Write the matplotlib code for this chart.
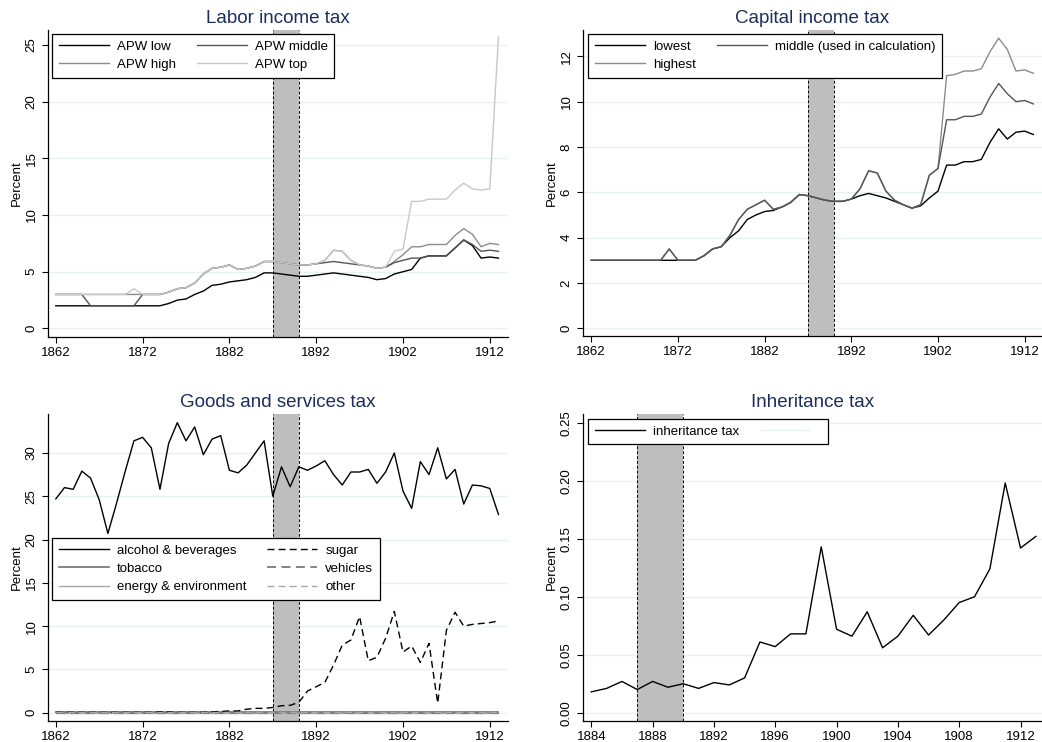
"""Four-panel tax rate chart, 1862-1913."""

import matplotlib

matplotlib.use("Agg")
import matplotlib.pyplot as plt

plt.rcParams["font.family"] = ["Liberation Sans", "DejaVu Sans"]

YEARS = list(range(1862, 1914))

# Labor income tax (percent)
APW_LOW = [2.0] * 13 + [2.2, 2.5, 2.6, 3.0, 3.3, 3.8, 3.9, 4.1, 4.2, 4.3, 4.5, 4.9, 4.9, 4.8, 4.7,
           4.6, 4.6, 4.7, 4.8, 4.9, 4.8, 4.7, 4.6, 4.5, 4.3, 4.4, 4.8, 5.0, 5.2, 6.2, 6.4,
           6.4, 6.4, 7.1, 7.8, 7.3, 6.2, 6.3, 6.2]
APW_TOP_EARLY = [3.0] * 9 + [3.5, 3.0, 3.0, 3.0, 3.2, 3.5, 3.6, 4.0, 4.8, 5.3, 5.4, 5.6, 5.2, 5.3,
                 5.5, 5.9, 5.9, 5.8, 5.7, 5.6, 5.6, 5.7, 6.0, 6.9, 6.8, 6.0, 5.6, 5.5, 5.3, 5.4]
APW_MIDDLE = ([3.0] * 4 + [2.0] * 6 + APW_TOP_EARLY[10:30]
              + [5.7, 5.8, 5.9, 5.8, 5.7, 5.6, 5.5, 5.3, 5.4]
              + [5.8, 6.0, 6.2, 6.2, 6.4, 6.4, 6.4, 7.1, 7.8, 7.4, 6.8, 6.9, 6.8])
APW_HIGH = ([3.0] * 9 + [3.0] + APW_TOP_EARLY[10:]
            + [5.9, 6.5, 7.2, 7.2, 7.4, 7.4, 7.4, 8.2, 8.8, 8.3, 7.2, 7.5, 7.4])
APW_TOP = APW_TOP_EARLY + [6.8, 7.0, 11.2, 11.2, 11.4, 11.4, 11.4, 12.2, 12.8, 12.3, 12.2, 12.3, 25.7]

# Capital income tax (percent)
CAP_LOWEST = [3.0] * 13 + [3.2, 3.5, 3.6, 4.0, 4.3, 4.8, 5.0, 5.15, 5.2, 5.35, 5.55, 5.9, 5.85,
              5.75, 5.65, 5.6, 5.6, 5.7, 5.85, 5.95, 5.85, 5.75, 5.6, 5.45, 5.3, 5.4, 5.75,
              6.05, 7.2, 7.2, 7.35, 7.35, 7.45, 8.2, 8.8, 8.35, 8.65, 8.7, 8.55]
CAP_HIGH_EARLY = [3.0] * 9 + [3.5, 3.0, 3.0, 3.0, 3.2, 3.5, 3.6, 4.1, 4.8, 5.25, 5.45, 5.65, 5.25,
                  5.35, 5.55, 5.9, 5.85, 5.75, 5.65, 5.6, 5.6, 5.7, 6.15, 6.95, 6.85, 6.05,
                  5.65, 5.45, 5.3, 5.45, 6.75, 7.05]
CAP_MIDDLE = CAP_HIGH_EARLY + [9.2, 9.2, 9.35, 9.35, 9.45, 10.2, 10.8, 10.35, 10.0, 10.05, 9.9]
CAP_HIGHEST = CAP_HIGH_EARLY + [11.15, 11.2, 11.35, 11.35, 11.45, 12.2, 12.8, 12.3, 11.35, 11.4, 11.25]

# Goods and services tax (percent)
ALCOHOL = [24.7, 26.0, 25.8, 27.9, 27.1, 24.6, 20.7, 24.2, 27.9, 31.4, 31.8, 30.6, 25.8, 31.1,
           33.5, 31.4, 33.0, 29.8, 31.6, 32.0, 28.0, 27.7, 28.6, 30.0, 31.4, 25.0, 28.4, 26.1,
           28.4, 28.0, 28.5, 29.1, 27.5, 26.3, 27.8, 27.8, 28.1, 26.5, 27.8, 30.0, 25.6, 23.6,
           29.0, 27.5, 30.6, 27.0, 28.1, 24.1, 26.3, 26.2, 25.9, 22.9]
SUGAR = [0.05] * 12 + [0.1, 0.1, 0.05, 0.05, 0.05, 0.05, 0.1, 0.15, 0.2, 0.2, 0.4, 0.5, 0.5, 0.6,
         0.8, 0.85, 1.2, 2.5, 3.0, 3.5, 5.5, 7.8, 8.4, 11.1, 6.0, 6.4, 8.6, 11.7, 7.0, 7.7, 5.8,
         8.0, 1.1, 9.5, 11.6, 10.0, 10.2, 10.3, 10.4, 10.6]
TOBACCO = [0.05] * 52
ENERGY = [0.02] * 52
VEHICLES = [0.0] * 52
OTHER = [0.03] * 52

# Inheritance tax (percent)
INH_YEARS = list(range(1884, 1914))
INHERITANCE = [0.018, 0.021, 0.027, 0.020, 0.027, 0.022, 0.025, 0.021, 0.026, 0.024, 0.030,
               0.061, 0.057, 0.068, 0.068, 0.143, 0.072, 0.066, 0.087, 0.056, 0.066, 0.084,
               0.067, 0.080, 0.095, 0.100, 0.124, 0.198, 0.142, 0.152]

SHADE = (1887, 1890)
TITLE_COLOR = "#1e2d5a"
GRID_COLOR = "#eaf1f2"
FS = 9.5


def style_axes(ax, title, xlim, ylim, xticks, yticks, yfmt):
    ax.axvspan(*SHADE, color="#bebebe", zorder=0.8, lw=0)
    for x in SHADE:
        ax.axvline(x, color="black", ls=(0, (3, 2)), lw=0.7, zorder=1)
    ax.set_xlim(*xlim)
    ax.set_ylim(*ylim)
    ax.set_xticks(xticks)
    ax.set_yticks(yticks)
    ax.set_yticklabels([yfmt.format(v) for v in yticks], rotation=90, va="center")
    ax.tick_params(labelsize=FS, length=4, width=0.8, direction="out")
    for s in ("top", "right"):
        ax.spines[s].set_visible(False)
    for s in ("left", "bottom"):
        ax.spines[s].set_linewidth(0.9)
    ax.yaxis.grid(True, color=GRID_COLOR, lw=1.0, zorder=0.5)
    ax.set_axisbelow(True)
    ax.set_ylabel("Percent", fontsize=FS, labelpad=2)
    ax.set_title(title, fontsize=13.5, color=TITLE_COLOR, pad=5)


def legend(ax, loc_anchor, handles=None, labels=None):
    kw = dict(ncol=2, loc="upper left", bbox_to_anchor=loc_anchor, fontsize=FS, frameon=True,
              fancybox=False, framealpha=1, edgecolor="black", handlelength=3.8,
              borderpad=0.5, labelspacing=0.45, columnspacing=1.6, handletextpad=0.6,
              borderaxespad=0.0)
    if handles is not None:
        kw["handles"] = handles
        kw["labels"] = labels
    leg = ax.legend(**kw)
    leg.get_frame().set_linewidth(0.9)
    leg.set_zorder(5)


fig = plt.figure(figsize=(10.42, 7.42), dpi=100)
W, H = 1042, 742

# Labor income tax
ax1 = fig.add_axes([48 / W, 1 - 337 / H, 460 / W, 307 / H])
ax1.plot(YEARS, APW_LOW, color="black", lw=1.0, label="APW low")
ax1.plot(YEARS, APW_HIGH, color="#8c8c8c", lw=1.0, label="APW high")
ax1.plot(YEARS, APW_MIDDLE, color="#555555", lw=1.0, label="APW middle")
ax1.plot(YEARS, APW_TOP, color="#c8c8c8", lw=1.0, label="APW top")
style_axes(ax1, "Labor income tax", (1861.1, 1914.1), (-0.75, 26.3),
           range(1862, 1913, 10), [0, 5, 10, 15, 20, 25], "{:g}")
legend(ax1, (4 / 460, 1 - 4 / 307))

# Capital income tax
ax2 = fig.add_axes([583 / W, 1 - 336 / H, 459 / W, 306 / H])
ax2.plot(YEARS, CAP_LOWEST, color="black", lw=1.0, label="lowest")
ax2.plot(YEARS, CAP_HIGHEST, color="#8c8c8c", lw=1.0, label="highest")
ax2.plot(YEARS, CAP_MIDDLE, color="#555555", lw=1.0, label="middle (used in calculation)")
style_axes(ax2, "Capital income tax", (1861.05, 1914.0), (-0.34, 13.16),
           range(1862, 1913, 10), [0, 2, 4, 6, 8, 10, 12], "{:g}")
legend(ax2, (5 / 459, 1 - 4 / 306))

# Goods and services tax
ax3 = fig.add_axes([48 / W, 1 - 721 / H, 460 / W, 307 / H])
ax3.plot(YEARS, ALCOHOL, color="black", lw=1.0, label="alcohol & beverages")
ax3.plot(YEARS, TOBACCO, color="#7a7a7a", lw=1.3, label="tobacco")
ax3.plot(YEARS, ENERGY, color="#a8a8a8", lw=1.0, label="energy & environment")
ax3.plot(YEARS, SUGAR, color="black", lw=1.0, ls=(0, (5, 3)), label="sugar")
ax3.plot(YEARS, VEHICLES, color="#7a7a7a", lw=1.3, ls=(0, (5, 3)), label="vehicles")
ax3.plot(YEARS, OTHER, color="#a8a8a8", lw=1.0, ls=(0, (5, 3)), label="other")
style_axes(ax3, "Goods and services tax", (1861.1, 1914.1), (-0.96, 34.5),
           range(1862, 1913, 10), [0, 5, 10, 15, 20, 25, 30], "{:g}")
legend(ax3, (4 / 460, 1 - 124 / 307))

# Inheritance tax
ax4 = fig.add_axes([583 / W, 1 - 721 / H, 459 / W, 307 / H])
ax4.plot(INH_YEARS, INHERITANCE, color="black", lw=1.0, label="inheritance tax")
style_axes(ax4, "Inheritance tax", (1883.46, 1913.4), (-0.0071, 0.2575),
           range(1884, 1913, 4), [0, 0.05, 0.10, 0.15, 0.20, 0.25], "{:.2f}")
legend(ax4, (5 / 459, 1 - 5 / 307),
       handles=[ax4.lines[0], plt.Line2D([], [], color=GRID_COLOR, lw=1.0)],
       labels=["inheritance tax", " "])

fig.savefig("out.png", dpi=100)
